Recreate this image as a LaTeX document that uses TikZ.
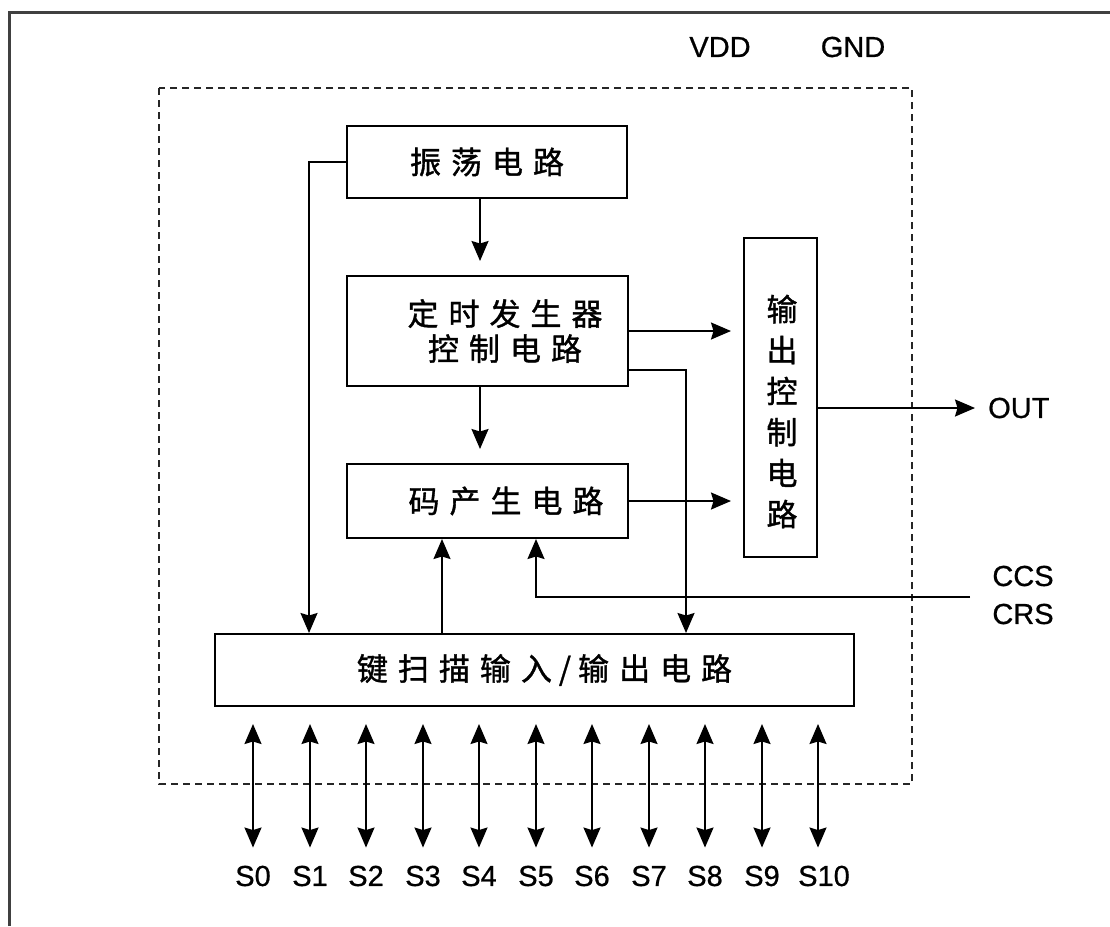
\documentclass[tikz,border=0pt]{standalone}
\usepackage{fontspec}
\setmainfont[FakeBold=0.7]{Liberation Sans}
\newfontfamily\cjk[FakeBold=1.2]{Noto Sans CJK SC}
\usetikzlibrary{arrows.meta,calc}
\newcommand\cjkg{\hspace{10pt}}
\newcommand\cjks{\hspace{7pt}}
\tikzset{
  blk/.style={draw=black, line width=2pt, rectangle, inner sep=0pt, align=center,
    font=\cjk\fontsize{31}{35}\selectfont},
  cjktext/.style={inner sep=0pt, align=center, font=\cjk\fontsize{31}{41}\selectfont},
  lbl/.style={inner sep=0pt, font=\fontsize{29}{32}\selectfont},
  conn/.style={draw=black, line width=1.8pt},
  tip/.tip={Stealth[length=20pt,width=17pt,inset=2.5pt]},
  arr/.style={conn, -tip},
  arrb/.style={conn, tip-tip},
  dashbox/.style={draw=black!85, line width=2pt, dash pattern=on 7pt off 5pt},
}
\begin{document}
\begin{tikzpicture}[x=1pt,y=-1pt]
\useasboundingbox (0,0) rectangle (1110,926);
% outer frame (only left and top edges visible)
\draw[draw=black!75, line width=3pt] (9,926) -- (9,12) -- (1110,12);
% dashed chip outline
\draw[dashbox] (159,88) rectangle (912,784);
% pins
\node[lbl] (vdd) at (720,47) {VDD};
\node[lbl] (gnd) at (853,47) {GND};
% blocks
\node[blk, minimum width=280pt, minimum height=72pt] (osc) at (487,162) {振\cjkg 荡\cjkg 电\cjkg 路};
\node[blk, minimum width=281pt, minimum height=110pt] (timer) at (487.5,331)
  {\hspace*{35pt}定\cjkg 时\cjkg 发\cjkg 生\cjkg 器\\\hspace*{35pt}控\cjkg 制\cjkg 电\cjkg 路};
\node[blk, minimum width=281pt, minimum height=74pt] (code) at (487.5,501)
  {\hspace*{37pt}码\cjkg 产\cjkg 生\cjkg 电\cjkg 路};
\node[blk, minimum width=73pt, minimum height=319pt] (outc) at (780.5,397.5) {};
\node[cjktext] (outt) at (782,411.5) {输\\出\\控\\制\\电\\路};
\node[blk, minimum width=639pt, minimum height=72pt] (keys) at (534.5,670)
  {\hspace*{20pt}键\cjkg 扫\cjkg 描\cjkg 输\cjkg 入\cjks /\cjks 输\cjkg 出\cjkg 电\cjkg 路};
% helper x positions
\coordinate (xa) at (309,0);
\coordinate (xb) at (480,0);
\coordinate (xc) at (686,0);
\coordinate (xd) at (442,0);
\coordinate (xe) at (536,0);
\coordinate (ya) at (0,370);
\coordinate (yo) at (0,408);
% connectors
\draw[arr] (osc.west) -| (keys.north -| xa);
\draw[arr, shorten >=14pt] (osc.south -| xb) -- (timer.north -| xb);
\draw[arr, shorten >=14pt] (timer.south -| xb) -- (code.north -| xb);
\draw[arr, shorten >=12pt] (timer.east) -- (timer.east -| outc.west);
\draw[arr] (timer.east |- ya) -| (keys.north -| xc);
\draw[arr, shorten >=12pt] (code.east) -- (code.east -| outc.west);
\draw[arr] (keys.north -| xd) -- (code.south -| xd);
% OUT
\node[lbl, anchor=west] (outl) at (988,408) {OUT};
\draw[arr, shorten >=13pt] (outc.east |- yo) -- (outl.west);
% CCS / CRS
\node[lbl] (ccs) at (1023,576) {CCS};
\node[lbl] (crs) at (1023,614) {CRS};
\coordinate (ccsend) at (970,597);
\draw[arr] (ccsend) -| (code.south -| xe);
% key pins S0..S10
\foreach \i in {0,...,10} {
  \pgfmathsetmacro{\xx}{round(253+56.5*\i)}
  \pgfmathsetmacro{\lx}{\i==10 ? \xx+6 : \xx}
  \node[lbl] (S\i) at (\lx,876) {S\i};
  \coordinate (p\i) at (\xx,0);
  \draw[arrb, shorten <=17pt, shorten >=18pt] (keys.south -| p\i) -- (p\i |- S\i.north);
}
\end{tikzpicture}
\end{document}
